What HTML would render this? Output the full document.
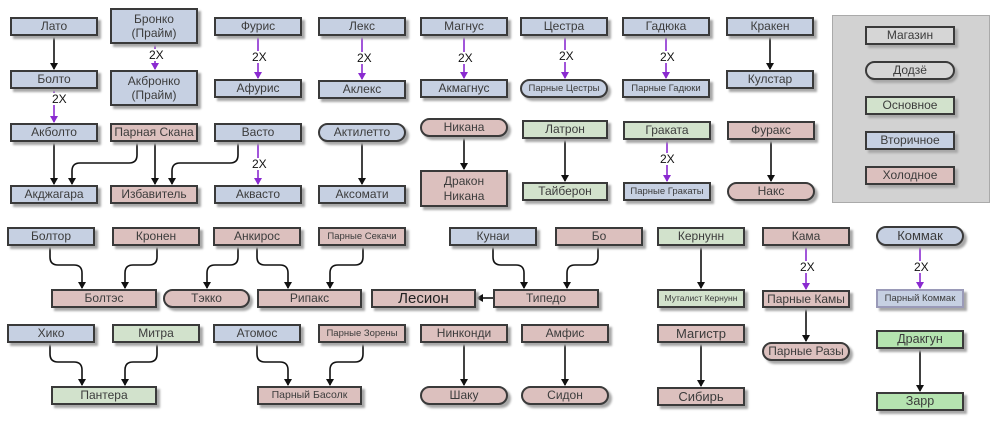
<!DOCTYPE html>
<html><head><meta charset="utf-8"><style>
body{margin:0;width:1000px;height:423px;background:#fff;position:relative;overflow:hidden;font-family:"Liberation Sans","DejaVu Sans",sans-serif;}
.n{position:absolute;box-sizing:border-box;border:2px solid #3a3a3a;display:flex;align-items:center;justify-content:center;text-align:center;font-size:12px;color:#3c3c3c;box-shadow:3px 3px 2px #a8a8a8;line-height:1.2;}
.b{background:#c6d0e2}.p{background:#dcc0be}.g{background:#d2e2cc}.gr{background:#d6d6d6}.bg{background:#b5e4b0}
.pill{border-radius:10px}
.s{font-size:9.5px}
.L{font-size:15px;color:#222}
.legend{position:absolute;left:832px;top:15px;width:158px;height:188px;background:#d2d2d2;border:1px solid #aaa;box-sizing:border-box}
svg{position:absolute;left:0;top:0}
.t{position:absolute;font-size:12px;color:#111;background:#fff;line-height:12px;padding:0 1px}
</style></head><body>
<div class="legend"></div>
<svg width="1000" height="423" id="sv">
<defs>
<marker id="ab" markerWidth="8" markerHeight="8" refX="6" refY="4" orient="auto" markerUnits="userSpaceOnUse"><path d="M0,0 L7,4 L0,8 Z" fill="#111"/></marker>
<marker id="ap" markerWidth="8" markerHeight="8" refX="6" refY="4" orient="auto" markerUnits="userSpaceOnUse"><path d="M0,0 L7,4 L0,8 Z" fill="#8a2ad0"/></marker>
</defs>
<g id="lines" fill="none" stroke-width="1.6"></g>
</svg>
<div class="n b" style="left:10px;top:17px;width:88px;height:19px">Лато</div>
<div class="n b" style="left:110px;top:8px;width:88px;height:36px">Бронко<br>(Прайм)</div>
<div class="n b" style="left:214px;top:17px;width:88px;height:19px">Фурис</div>
<div class="n b" style="left:318px;top:17px;width:88px;height:19px">Лекс</div>
<div class="n b" style="left:420px;top:17px;width:88px;height:19px">Магнус</div>
<div class="n b" style="left:520px;top:17px;width:88px;height:19px">Цестра</div>
<div class="n b" style="left:622px;top:17px;width:88px;height:19px">Гадюка</div>
<div class="n b" style="left:726px;top:17px;width:88px;height:19px">Кракен</div>
<div class="n b" style="left:10px;top:70px;width:88px;height:19px">Болто</div>
<div class="n b" style="left:110px;top:70px;width:88px;height:36px">Акбронко<br>(Прайм)</div>
<div class="n b" style="left:214px;top:79px;width:88px;height:19px">Афурис</div>
<div class="n b" style="left:318px;top:80px;width:88px;height:19px">Аклекс</div>
<div class="n b" style="left:420px;top:79px;width:88px;height:19px">Акмагнус</div>
<div class="n b pill s" style="left:520px;top:79px;width:88px;height:19px">Парные Цестры</div>
<div class="n b s" style="left:622px;top:79px;width:88px;height:19px">Парные Гадюки</div>
<div class="n b" style="left:726px;top:70px;width:88px;height:19px">Кулстар</div>
<div class="n b" style="left:10px;top:123px;width:88px;height:19px">Акболто</div>
<div class="n p" style="left:110px;top:123px;width:88px;height:19px">Парная Скана</div>
<div class="n b" style="left:214px;top:123px;width:88px;height:19px">Васто</div>
<div class="n b pill" style="left:318px;top:123px;width:88px;height:19px">Актилетто</div>
<div class="n p pill" style="left:420px;top:118px;width:88px;height:19px">Никана</div>
<div class="n g" style="left:522px;top:120px;width:86px;height:19px">Латрон</div>
<div class="n g" style="left:623px;top:121px;width:88px;height:19px">Граката</div>
<div class="n p" style="left:727px;top:121px;width:88px;height:19px">Фуракс</div>
<div class="n b" style="left:10px;top:185px;width:88px;height:19px">Акджагара</div>
<div class="n p" style="left:110px;top:185px;width:88px;height:19px">Избавитель</div>
<div class="n b" style="left:214px;top:185px;width:88px;height:19px">Аквасто</div>
<div class="n b" style="left:318px;top:185px;width:88px;height:19px">Аксомати</div>
<div class="n p" style="left:420px;top:170px;width:88px;height:37px">Дракон<br>Никана</div>
<div class="n g" style="left:522px;top:182px;width:86px;height:19px">Тайберон</div>
<div class="n b s" style="left:623px;top:182px;width:88px;height:19px">Парные Гракаты</div>
<div class="n p pill" style="left:727px;top:182px;width:88px;height:19px">Накс</div>
<div class="n gr" style="left:865px;top:26px;width:90px;height:19px">Магазин</div>
<div class="n gr pill" style="left:865px;top:61px;width:90px;height:19px">Додзё</div>
<div class="n g" style="left:865px;top:96px;width:90px;height:19px">Основное</div>
<div class="n b" style="left:865px;top:131px;width:90px;height:19px">Вторичное</div>
<div class="n p" style="left:865px;top:166px;width:90px;height:19px">Холодное</div>
<div class="n b" style="left:7px;top:227px;width:88px;height:19px">Болтор</div>
<div class="n p" style="left:112px;top:227px;width:88px;height:19px">Кронен</div>
<div class="n p" style="left:213px;top:227px;width:88px;height:19px">Анкирос</div>
<div class="n p s" style="left:318px;top:227px;width:88px;height:19px">Парные Секачи</div>
<div class="n b" style="left:449px;top:227px;width:88px;height:19px">Кунаи</div>
<div class="n p" style="left:555px;top:227px;width:88px;height:19px">Бо</div>
<div class="n g" style="left:657px;top:227px;width:88px;height:19px">Кернунн</div>
<div class="n p" style="left:762px;top:227px;width:88px;height:19px">Кама</div>
<div class="n b pill" style="left:876px;top:226px;width:88px;height:20px;font-size:13px">Коммак</div>
<div class="n p" style="left:51px;top:289px;width:106px;height:19px">Болтэс</div>
<div class="n p pill" style="left:163px;top:289px;width:87px;height:19px">Тэкко</div>
<div class="n p" style="left:257px;top:289px;width:105px;height:19px">Рипакс</div>
<div class="n p L" style="left:371px;top:289px;width:105px;height:19px">Лесион</div>
<div class="n p" style="left:493px;top:289px;width:106px;height:19px">Типедо</div>
<div class="n g" style="left:657px;top:289px;width:88px;height:19px;font-size:8.5px">Муталист Кернунн</div>
<div class="n p" style="left:762px;top:290px;width:88px;height:18px">Парные Камы</div>
<div class="n b s" style="left:876px;top:289px;width:88px;height:19px;border-color:#9a9ab8">Парный Коммак</div>
<div class="n b" style="left:7px;top:324px;width:88px;height:19px">Хико</div>
<div class="n g" style="left:112px;top:324px;width:88px;height:19px">Митра</div>
<div class="n b" style="left:213px;top:324px;width:88px;height:19px">Атомос</div>
<div class="n p s" style="left:318px;top:324px;width:88px;height:19px">Парные Зорены</div>
<div class="n p" style="left:420px;top:324px;width:88px;height:19px">Нинконди</div>
<div class="n p" style="left:521px;top:324px;width:88px;height:19px">Амфис</div>
<div class="n p" style="left:657px;top:324px;width:88px;height:19px;font-size:13px">Магистр</div>
<div class="n p pill" style="left:762px;top:342px;width:88px;height:19px">Парные Разы</div>
<div class="n bg" style="left:876px;top:330px;width:88px;height:19px;font-size:12.5px">Дракгун</div>
<div class="n g" style="left:51px;top:386px;width:106px;height:19px">Пантера</div>
<div class="n p" style="left:257px;top:386px;width:105px;height:19px;font-size:10.5px">Парный Басолк</div>
<div class="n p pill" style="left:420px;top:386px;width:88px;height:19px">Шаку</div>
<div class="n p pill" style="left:521px;top:386px;width:88px;height:19px">Сидон</div>
<div class="n p" style="left:657px;top:387px;width:88px;height:19px;font-size:13px">Сибирь</div>
<div class="n bg" style="left:876px;top:392px;width:88px;height:19px;font-size:12.5px">Зарр</div>
<div class="t" style="left:148px;top:49px">2X</div>
<div class="t" style="left:51px;top:93px">2X</div>
<div class="t" style="left:251px;top:51px">2X</div>
<div class="t" style="left:356px;top:52px">2X</div>
<div class="t" style="left:457px;top:52px">2X</div>
<div class="t" style="left:558px;top:50px">2X</div>
<div class="t" style="left:659px;top:51px">2X</div>
<div class="t" style="left:251px;top:158px">2X</div>
<div class="t" style="left:659px;top:153px">2X</div>
<div class="t" style="left:799px;top:261px">2X</div>
<div class="t" style="left:913px;top:261px">2X</div>
<script>
var g=document.getElementById('lines'),h='';
function v(x,y1,y2,p){h+='<path d="M'+x+' '+y1+' V'+(y2-1)+'" stroke="'+(p?'#8a2ad0':'#111')+'" marker-end="url(#'+(p?'ap':'ab')+')"/>';}
function c(x1,y1,x2,y2,ym){var r=8,s=x2>x1?1:-1;h+='<path d="M'+x1+' '+y1+' V'+(ym-r)+' Q'+x1+' '+ym+' '+(x1+s*r)+' '+ym+' H'+(x2-s*r)+' Q'+x2+' '+ym+' '+x2+' '+(ym+r)+' V'+(y2-1)+'" stroke="#111" marker-end="url(#ab)"/>';}
v(54,36,70);v(155,44,70,1);v(258,36,79,1);v(362,36,80,1);v(464,36,79,1);v(565,36,79,1);v(666,36,79,1);v(770,36,70);
v(54,89,123,1);v(54,142,185);v(155,142,185);v(258,142,185,1);v(362,142,185);v(464,137,170);v(565,139,182);v(667,140,182,1);v(771,140,182);
c(137,142,72,185,163);c(238,142,172,185,163);
c(50,246,82,289,265);c(157,246,125,289,265);c(238,246,207,289,265);c(257,246,288,289,265);c(363,246,330,289,265);
c(493,246,524,289,265);c(598,246,567,289,265);
v(701,246,289);v(806,246,290,1);v(920,246,289,1);
h+='<path d="M493 298 H477" stroke="#111" marker-end="url(#ab)"/>';
c(50,343,82,386,362);c(157,343,125,386,362);c(257,343,288,386,362);c(363,343,330,386,362);
v(464,343,386);v(565,343,386);v(701,343,387);v(806,308,342);v(920,349,392);
g.innerHTML=h;
</script>
</body></html>
